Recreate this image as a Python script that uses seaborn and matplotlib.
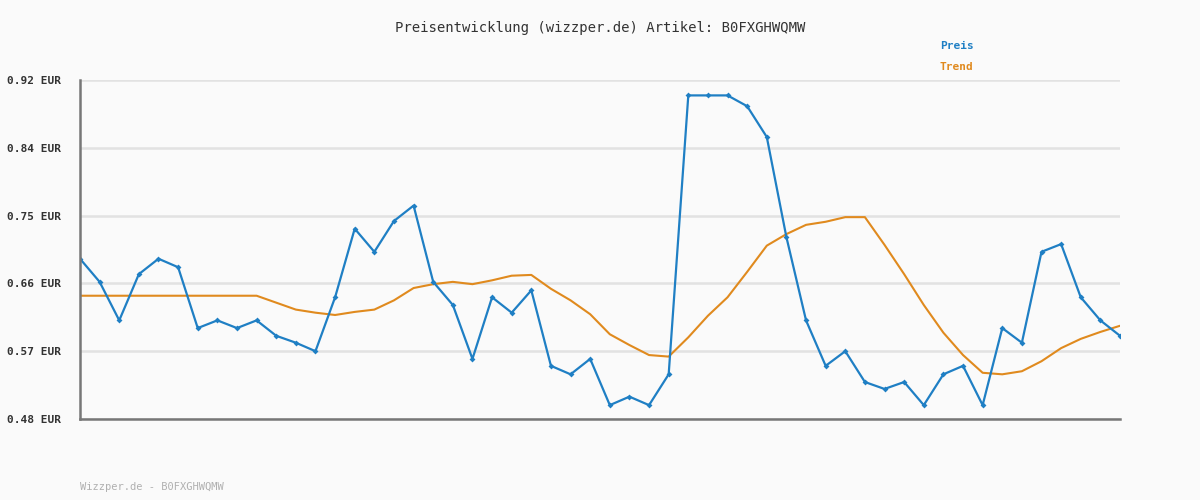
import numpy as np
import pandas as pd
import seaborn as sns
import matplotlib.pyplot as plt

# values
preis = [0.688, 0.658, 0.608, 0.668, 0.688, 0.677, 0.598, 0.608, 0.598, 0.608,
         0.588, 0.579, 0.568, 0.638, 0.727, 0.697, 0.737, 0.757, 0.658, 0.628,
         0.558, 0.638, 0.618, 0.647, 0.549, 0.538, 0.558, 0.498, 0.509, 0.498,
         0.538, 0.900, 0.900, 0.900, 0.886, 0.846, 0.716, 0.608, 0.549, 0.568,
         0.528, 0.519, 0.528, 0.498, 0.538, 0.549, 0.498, 0.598, 0.579, 0.697,
         0.707, 0.638, 0.608, 0.588]
trend = [0.640, 0.640, 0.640, 0.640, 0.640, 0.640, 0.640, 0.640, 0.640, 0.640,
         0.631, 0.622, 0.618, 0.615, 0.619, 0.622, 0.634, 0.650, 0.655, 0.658,
         0.655, 0.660, 0.666, 0.667, 0.649, 0.634, 0.616, 0.590, 0.576, 0.563,
         0.561, 0.586, 0.614, 0.638, 0.671, 0.705, 0.720, 0.732, 0.736, 0.742,
         0.742, 0.706, 0.668, 0.628, 0.592, 0.563, 0.540, 0.538, 0.542, 0.555,
         0.572, 0.584, 0.593, 0.601]
tick_vals = [0.48, 0.568, 0.656, 0.744, 0.832, 0.92]
tick_labels = ['0.48 EUR', '0.57 EUR', '0.66 EUR', '0.75 EUR', '0.84 EUR', '0.92 EUR']

blue = '#1f7fc4'
orange = '#e08a1e'
bg = '#fafafa'

df = pd.DataFrame({'idx': np.arange(len(preis)), 'Preis': preis, 'Trend': trend})

sns.set_style("white")
plt.rcParams['font.family'] = ['DejaVu Sans Mono', 'DejaVu Sans']

fig = plt.figure(figsize=(12, 5), dpi=100, facecolor=bg)
ax = fig.add_axes([80 / 1200, 1 - 419 / 500, 1040 / 1200, 339 / 500])
ax.set_facecolor(bg)

sns.lineplot(data=df, x='idx', y='Trend', color=orange, linewidth=1.5, ax=ax)
sns.lineplot(data=df, x='idx', y='Preis', color=blue, linewidth=1.6,
             marker='D', markersize=3, markeredgewidth=0, ax=ax)

ax.set_xlim(0, len(preis) - 1)
ax.set_ylim(0.48, 0.92)
ax.set_yticks(tick_vals)
ax.set_yticklabels(tick_labels, fontsize=8, fontweight='bold', color='#333333')
ax.set_xticks([])
ax.tick_params(axis='y', length=0, pad=14)
ax.grid(axis='y', color='#e2e2e2', linewidth=1.8)
ax.set_axisbelow(True)
ax.set_xlabel('')
ax.set_ylabel('')
for s in ['top', 'right']:
    ax.spines[s].set_visible(False)
for s in ['left', 'bottom']:
    ax.spines[s].set_color('#777777')
    ax.spines[s].set_linewidth(1.8)

fig.text(0.5, 1 - 28 / 500, 'Preisentwicklung (wizzper.de) Artikel: B0FXGHWQMW',
         ha='center', va='center', fontsize=10, color='#333333')
fig.text(940 / 1200, 1 - 46 / 500, 'Preis', ha='left', va='center',
         fontsize=8, fontweight='bold', color=blue)
fig.text(940 / 1200, 1 - 67 / 500, 'Trend', ha='left', va='center',
         fontsize=8, fontweight='bold', color=orange)
fig.text(80 / 1200, 1 - 487 / 500, 'Wizzper.de - B0FXGHWQMW', ha='left', va='center',
         fontsize=7.5, color='#b0b0b0')

fig.savefig('out.png', dpi=100, facecolor=bg)
